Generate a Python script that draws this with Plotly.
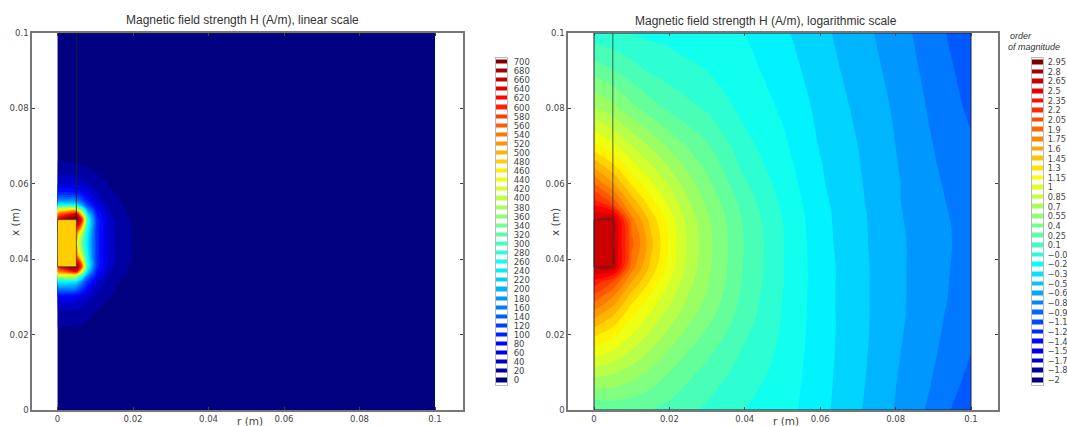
import plotly.graph_objects as go

W, H = 1067, 426

# ---- data ----
LIN_R = [0, .0025, .005, .0065, .008, .0105, .014, .018, .024, .1]
LIN_X = [0, .02, .026, .03, .034, .0358, .0367, .038, .041, .0443, .047, .0505, .052,
         .0532, .0544, .0557, .0575, .0601, .065, .07, .1]
LIN_H = [
    [1, 1, 1, 1, 1, 1, 1, 1, 1, 1],
    [12, 12, 12, 11, 10, 8, 6, 4, 1, 1],
    [35, 35, 34, 30, 26, 18, 12, 7, 3, 1],
    [75, 75, 70, 60, 50, 32, 20, 11, 4, 1],
    [250, 250, 235, 170, 115, 60, 28, 15, 6, 1],
    [430, 440, 430, 300, 180, 85, 35, 19, 7, 1],
    [520, 560, 620, 420, 220, 95, 40, 21, 8, 1],
    [600, 680, 700, 560, 270, 110, 45, 22, 9, 1],
    [480, 480, 540, 400, 250, 110, 47, 24, 10, 1],
    [480, 480, 470, 330, 240, 110, 48, 24, 10, 1],
    [480, 480, 540, 400, 250, 110, 47, 24, 10, 1],
    [640, 690, 700, 600, 280, 110, 45, 23, 9, 1],
    [540, 590, 640, 460, 230, 98, 41, 21, 8, 1],
    [430, 450, 450, 310, 180, 85, 36, 20, 8, 1],
    [260, 260, 250, 190, 125, 68, 31, 18, 7, 1],
    [170, 170, 165, 130, 95, 55, 27, 16, 6, 1],
    [105, 105, 100, 85, 68, 42, 23, 13, 5, 1],
    [55, 55, 52, 46, 40, 28, 18, 10, 4, 1],
    [22, 22, 21, 20, 18, 13, 9, 5, 2, 1],
    [10, 10, 10, 9, 8, 5, 3, 2, 1, 1],
    [1, 1, 1, 1, 1, 1, 1, 1, 1, 1],
]

LOG_R = [0, .005, .01, .015, .02, .025, .03, .04, .05, .06, .07, .08, .09, .1]
LOG_X = [0, .01, .02, .025, .03, .034, .038, .0443, .0505, .055, .06, .065, .07, .08, .09, .1]
LOG_H = [
    [.25, .30, .28, .25, .20, .13, .07, -.05, -.13, -.30, -.48, -.66, -.84, -1.08],
    [.78, .72, .63, .52, .40, .29, .20, .03, -.10, -.29, -.46, -.64, -.80, -.98],
    [1.33, 1.20, 1.00, .82, .65, .49, .37, .12, -.07, -.28, -.45, -.62, -.77, -.92],
    [1.65, 1.45, 1.17, .97, .78, .60, .46, .17, -.06, -.28, -.45, -.61, -.76, -.90],
    [2.00, 1.75, 1.38, 1.13, .90, .69, .53, .20, -.05, -.28, -.45, -.61, -.75, -.88],
    [2.30, 2.05, 1.60, 1.28, 1.00, .75, .57, .22, -.04, -.28, -.45, -.61, -.75, -.87],
    [2.68, 2.70, 1.82, 1.42, 1.08, .80, .59, .23, -.04, -.28, -.45, -.61, -.75, -.86],
    [2.68, 2.70, 1.95, 1.50, 1.12, .82, .60, .24, -.04, -.29, -.46, -.61, -.75, -.85],
    [2.65, 2.70, 1.80, 1.40, 1.08, .79, .58, .22, -.05, -.30, -.46, -.62, -.76, -.85],
    [2.30, 2.00, 1.55, 1.22, .96, .72, .52, .18, -.08, -.31, -.47, -.63, -.77, -.86],
    [1.90, 1.62, 1.28, 1.03, .82, .62, .44, .12, -.11, -.33, -.48, -.63, -.78, -.87],
    [1.55, 1.32, 1.05, .86, .68, .50, .36, .05, -.14, -.34, -.49, -.64, -.79, -.89],
    [1.20, 1.05, .85, .68, .52, .38, .27, .00, -.17, -.36, -.50, -.65, -.80, -.93],
    [.72, .60, .45, .32, .22, .14, .08, -.10, -.22, -.39, -.53, -.67, -.83, -.98],
    [.35, .26, .16, .08, .03, -.02, -.05, -.15, -.27, -.43, -.56, -.70, -.86, -1.02],
    [.00, -.02, -.05, -.08, -.10, -.12, -.15, -.20, -.32, -.46, -.59, -.73, -.89, -1.07],
]

LIN_LEVELS = [700, 680, 660, 640, 620, 600, 580, 560, 540, 520, 500, 480, 460, 440, 420, 400, 380, 360,
              340, 320, 300, 280, 260, 240, 220, 200, 180, 160, 140, 120, 100, 80, 60, 40, 20, 0]
LOG_LEVELS = [2.95, 2.8, 2.65, 2.5, 2.35, 2.2, 2.05, 1.9, 1.75, 1.6, 1.45, 1.3, 1.15, 1, .85, .7, .55, .4, .25, .1,
              -.05, -.2, -.35, -.5, -.65, -.8, -.95, -1.1, -1.25, -1.4, -1.55, -1.7, -1.85, -2]
LOG_LABELS = ["2.95", "2.8", "2.65", "2.5", "2.35", "2.2", "2.05", "1.9", "1.75", "1.6", "1.45", "1.3", "1.15", "1",
              "0.85", "0.7", "0.55", "0.4", "0.25", "0.1", "−0.0", "−0.2", "−0.3", "−0.5", "−0.6", "−0.8", "−0.9",
              "−1.1", "−1.2", "−1.4", "−1.5", "−1.7", "−1.8", "−2"]

TICKS = [0, .02, .04, .06, .08, .1]
TICK_TEXT = ["0", "0.02", "0.04", "0.06", "0.08", "0.1"]

COIL_R = [0, .005, .005, 0, 0]
COIL_X = [.038, .038, .0505, .0505, .038]
TUBE_R = [.005, .005]
TUBE_X = [.0505, .1]
LEFT_EDGE_R = [0, .1]
LEFT_EDGE_X = [.1, .1]
FRAME_R = [0, 0, .1, .1, 0]
FRAME_X = [0, .1, .1, 0, 0]

JET = [[0, "rgb(0,0,128)"], [.11, "rgb(0,0,255)"], [.36, "rgb(0,255,255)"], [.5, "rgb(128,255,128)"],
       [.64, "rgb(255,255,0)"], [.89, "rgb(255,0,0)"], [1, "rgb(128,0,0)"]]

TICK_FONT = dict(family="DejaVu Sans", size=8.5, color="#444")
BAR_FONT_RIGHT = dict(family="DejaVu Sans", size=8.2, color="#444")
AXIS_COLOR = "#777"


def dx(a, b):
    return [a / W, b / W]


def dy(top, bottom):
    return [1 - bottom / H, 1 - top / H]


fig = go.Figure()

# left panel
fig.add_trace(go.Contour(x=LIN_R, y=LIN_X, z=LIN_H, colorscale=JET, zmin=10, zmax=710, showscale=False,
                         autocontour=False, contours=dict(start=0, end=700, size=20, coloring="fill"),
                         line=dict(width=0), hoverinfo="skip", xaxis="x", yaxis="y"))
fig.add_trace(go.Scatter(x=COIL_R, y=COIL_X, mode="lines", fill="toself", fillcolor="rgb(255,205,0)",
                         line=dict(color="#444", width=.8), xaxis="x", yaxis="y"))
fig.add_trace(go.Scatter(x=TUBE_R, y=TUBE_X, mode="lines", line=dict(color="#222", width=.8), xaxis="x", yaxis="y"))
fig.add_trace(go.Scatter(x=LEFT_EDGE_R, y=LEFT_EDGE_X, mode="lines", line=dict(color="#222", width=1), xaxis="x", yaxis="y"))

# right panel
fig.add_trace(go.Contour(x=LOG_R, y=LOG_X, z=LOG_H, colorscale=JET, zmin=-2, zmax=2.95, showscale=False,
                         autocontour=False, contours=dict(start=-2, end=2.95, size=.15, coloring="fill"),
                         line=dict(width=0), hoverinfo="skip", xaxis="x2", yaxis="y2"))
fig.add_trace(go.Scatter(x=COIL_R, y=COIL_X, mode="lines", fill="toself", fillcolor="rgb(204,0,0)",
                         line=dict(color="#333", width=.8), xaxis="x2", yaxis="y2"))
fig.add_trace(go.Scatter(x=TUBE_R, y=TUBE_X, mode="lines", line=dict(color="#333", width=.8), xaxis="x2", yaxis="y2"))
fig.add_trace(go.Scatter(x=FRAME_R, y=FRAME_X, mode="lines", line=dict(color="#223", width=1), xaxis="x2", yaxis="y2"))

# dashed colour scales
fig.add_trace(go.Heatmap(x=[0], y=LIN_LEVELS, z=[[v] for v in LIN_LEVELS], colorscale=JET, zmin=0, zmax=700,
                         showscale=False, ygap=5, hoverinfo="skip", xaxis="x3", yaxis="y3"))
fig.add_trace(go.Heatmap(x=[0], y=LOG_LEVELS, z=[[v] for v in LOG_LEVELS], colorscale=JET, zmin=-2, zmax=2.95,
                         showscale=False, ygap=5, hoverinfo="skip", xaxis="x4", yaxis="y4"))


def panel_x(dom, x0_px, x1_px):
    scale = .1 / (x1_px - x0_px)
    return dict(domain=dx(*dom), range=[(dom[0] - x0_px) * scale, (dom[1] - x0_px) * scale], automargin=False,
                tickmode="array", tickvals=TICKS, ticktext=TICK_TEXT, ticks="inside", ticklen=3, tickwidth=1,
                tickcolor="#444", showgrid=False, zeroline=False, showline=True, linecolor=AXIS_COLOR, linewidth=1.5,
                mirror="ticks", tickfont=TICK_FONT)


def panel_y():
    return dict(domain=dy(33, 410), range=[0, .1], tickmode="array", tickvals=TICKS, ticktext=TICK_TEXT, automargin=False,
                ticks="inside", ticklen=3, tickwidth=1, tickcolor="#444", showgrid=False, zeroline=False,
                showline=True, linecolor=AXIS_COLOR, linewidth=1.5, mirror="ticks", tickfont=TICK_FONT)


def bar_x(a, b):
    return dict(domain=dx(a, b), range=[-.5, .5], automargin=False, showticklabels=False, ticks="", showgrid=False,
                zeroline=False, showline=True, linecolor="#bbb", linewidth=1, mirror=True)


def bar_y(levels, labels, x_anchor, font, standoff):
    step = abs(levels[0] - levels[1])
    return dict(domain=dy(57.5, 385), range=[min(levels) - step / 2, max(levels) + step / 2], side="right",
                automargin=False, tickmode="array", tickvals=levels, ticktext=labels, ticks="outside", ticklen=standoff,
                tickcolor="rgba(0,0,0,0)", showgrid=False, zeroline=False, showline=True, linecolor="#bbb", linewidth=1,
                mirror=True, tickfont=font, anchor=x_anchor, ticklabeloverflow="allow")


annotations = []


def note(text, x, y, size, angle=0, italic=False, family="Liberation Sans", color="#333", align="center"):
    annotations.append(dict(text=f"<i>{text}</i>" if italic else text, xref="paper", yref="paper", x=x / W, y=1 - y / H,
                            showarrow=False, textangle=angle, font=dict(family=family, size=size, color=color),
                            xanchor=align, yanchor="middle"))


note("Magnetic field strength H (A/m), linear scale", 242, 20, 12)
note("Magnetic field strength H (A/m), logarithmic scale", 766, 21, 12)
note("r (m)", 250, 421, 10.5, family="DejaVu Sans", color="#444")
note("r (m)", 786, 421, 10.5, family="DejaVu Sans", color="#444")
note("x (m)", 15, 222, 10.5, angle=-90, family="DejaVu Sans", color="#444")
note("x (m)", 555, 222, 10.5, angle=-90, family="DejaVu Sans", color="#444")
note("order", 1008, 36, 9, italic=True, align="left")
note("of magnitude", 1006, 47, 9, italic=True, align="left")

fig.update_layout(
    width=W, height=H, autosize=False, margin=dict(l=0, r=0, t=0, b=0, pad=0), showlegend=False,
    paper_bgcolor="white", plot_bgcolor="white", annotations=annotations,
    xaxis=panel_x((32, 463), 57.5, 435), yaxis=panel_y(),
    xaxis2=panel_x((568, 998), 594, 971), yaxis2={**panel_y(), "anchor": "x2"},
    xaxis3=bar_x(496, 507), yaxis3=bar_y(LIN_LEVELS, [str(v) for v in LIN_LEVELS], "x3", TICK_FONT, 4),
    xaxis4=bar_x(1032, 1043), yaxis4=bar_y(LOG_LEVELS, LOG_LABELS, "x4", BAR_FONT_RIGHT, 2),
)
fig.update_layout(xaxis2=dict(anchor="y2"), xaxis3=dict(anchor="y3"), xaxis4=dict(anchor="y4"))

fig.write_html("out.html", config={"displayModeBar": False},
               post_script="document.body.style.margin='0';document.body.style.overflow='hidden';")
